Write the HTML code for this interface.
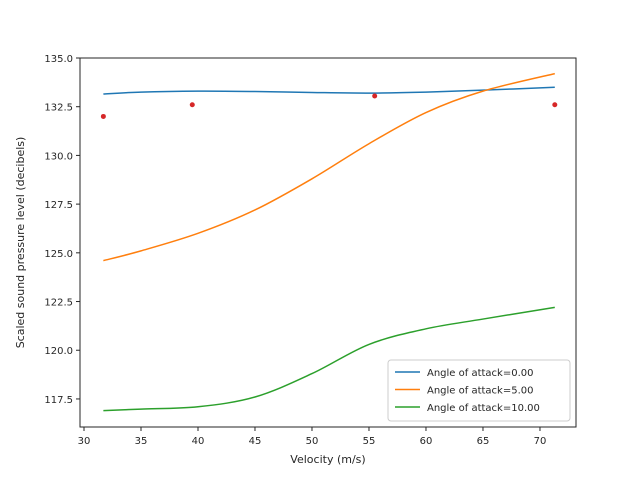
<!DOCTYPE html>
<html><head><meta charset="utf-8"><style>
body{margin:0;background:#fff;}
svg{display:block;font-family:"DejaVu Sans","Liberation Sans",sans-serif;}
</style></head><body>
<svg id="chart" width="640" height="480"></svg>
<script>
const xTicks=[30,35,40,45,50,55,60,65,70];
const yTicks=[117.5,120.0,122.5,125.0,127.5,130.0,132.5,135.0];
const obsX=[31.7,39.5,55.5,71.3];
const obsY=[132.0,132.6,133.05,132.6];
const curveX=[31.7,35,40,45,50,55,60,65,71.3];
const blueY=[133.15,133.25,133.3,133.28,133.23,133.2,133.25,133.35,133.5];
const orangeY=[124.6,125.1,126.0,127.2,128.8,130.6,132.2,133.3,134.2];
const greenY=[116.9,116.98,117.1,117.6,118.8,120.3,121.1,121.6,122.2];
const seriesNames=["Angle of attack=0.00","Angle of attack=5.00","Angle of attack=10.00"];
const colors=["#1f77b4","#ff7f0e","#2ca02c"];
const L=80,R=576,T=58,B=427;
const xmin=29.65,xmax=73.16,ymin=116.06,ymax=135.0;
const sx=v=>L+(v-xmin)/(xmax-xmin)*(R-L);
const sy=v=>B-(v-ymin)/(ymax-ymin)*(B-T);
const svg=document.getElementById('chart');
const NS="http://www.w3.org/2000/svg";
function mk(tag,attrs,parent){const e=document.createElementNS(NS,tag);for(const k in attrs)e.setAttribute(k,attrs[k]);(parent||svg).appendChild(e);return e;}
function pathFor(xs,ys){let d=`M${sx(xs[0])},${sy(ys[0])}`;
for(let i=0;i<xs.length-1;i++){const p0=i?i-1:i,p3=i+2<xs.length?i+2:i+1;
const x1=sx(xs[i])+(sx(xs[i+1])-sx(xs[p0]))/6,y1=sy(ys[i])+(sy(ys[i+1])-sy(ys[p0]))/6;
const x2=sx(xs[i+1])-(sx(xs[p3])-sx(xs[i]))/6,y2=sy(ys[i+1])-(sy(ys[p3])-sy(ys[i]))/6;
d+=` C${x1},${y1} ${x2},${y2} ${sx(xs[i+1])},${sy(ys[i+1])}`;}return d;}
[blueY,orangeY,greenY].forEach((ys,k)=>{
const p=mk('path',{d:pathFor(curveX,ys),fill:'none',stroke:colors[k],'stroke-width':1.5});

});
obsX.forEach((x,i)=>{const c=mk('circle',{cx:sx(x),cy:sy(obsY[i]),r:2.5,fill:'#d62728'});

});
const frame=mk('rect',{x:L,y:T,width:R-L,height:B-T,fill:'none',stroke:'#262626','stroke-width':1});


xTicks.forEach(v=>{const x=sx(v);mk('line',{x1:x,x2:x,y1:B,y2:B+4,stroke:'#262626'});
const t=mk('text',{x:x,y:B+17,'text-anchor':'middle','font-size':10,fill:'#262626'});t.textContent=v;

});
yTicks.forEach(v=>{const y=sy(v);mk('line',{x1:L-4,x2:L,y1:y,y2:y,stroke:'#262626'});
const t=mk('text',{x:L-7,y:y+4,'text-anchor':'end','font-size':10,fill:'#262626'});t.textContent=v.toFixed(1);

});
const xt=mk('text',{x:(L+R)/2,y:463,'text-anchor':'middle','font-size':11,fill:'#262626'});xt.textContent='Velocity (m/s)';


const yt=mk('text',{x:0,y:0,transform:`translate(24,${(T+B)/2}) rotate(-90)`,'text-anchor':'middle','font-size':11,fill:'#262626'});yt.textContent='Scaled sound pressure level (decibels)';


const lg=mk('g',{});


mk('rect',{x:388,y:360,width:182,height:61,rx:3,fill:'#fff',stroke:'#ccc'},lg);
seriesNames.forEach((n,i)=>{const y=372+i*17.5;
mk('line',{x1:395,x2:420,y1:y,y2:y,stroke:colors[i],'stroke-width':1.5},lg);
const t=mk('text',{x:427,y:y+4,'font-size':10,fill:'#262626'},lg);t.textContent=n;

});
</script>
</body></html>
